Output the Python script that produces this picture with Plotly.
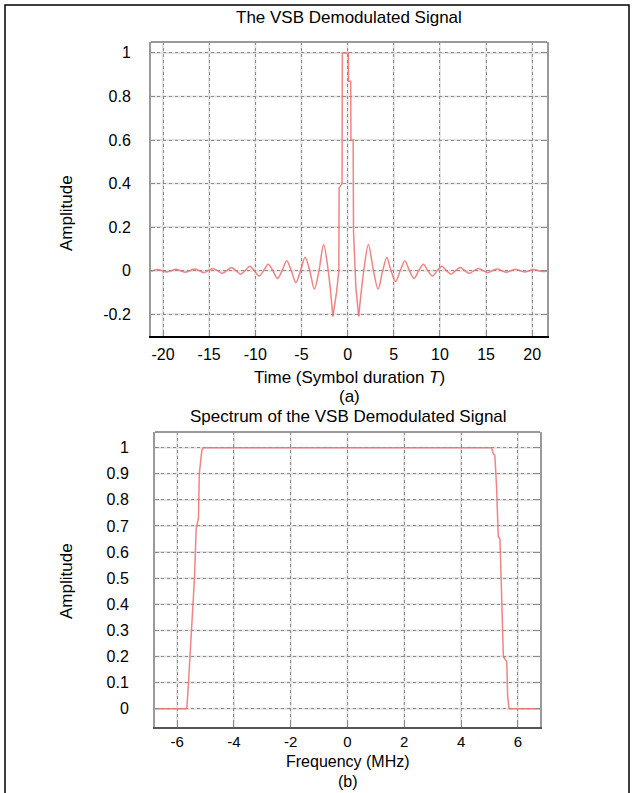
import plotly.graph_objects as go

# ---------------- data ----------------
# (a) time-domain demodulated VSB signal (time in symbol durations T)
# left oscillating tail
left_t = [-21.6, -21.1, -20.6, -20.1, -19.6, -19.1, -18.6, -18.1, -17.6, -17.1,
          -16.6, -16.1, -15.6, -15.1, -14.6, -14.1, -13.6, -13.1, -12.6, -12.1,
          -11.6, -11.1, -10.6, -10.1, -9.6, -9.1, -8.6, -8.1, -7.6, -7.1,
          -6.6, -6.1, -5.6, -5.1, -4.6, -4.1, -3.6, -3.1, -2.6, -2.1, -1.6]
left_amp = [-0.004, 0.0, 0.005, 0.0, -0.006, 0.0, 0.006, 0.0, -0.007, 0.0,
            0.008, 0.0, -0.009, 0.0, 0.010, 0.0, -0.012, 0.0, 0.014, 0.0,
            -0.016, 0.0, 0.020, 0.0, -0.024, 0.0, 0.030, 0.0, -0.036, 0.0,
            0.045, 0.0, -0.055, 0.0, 0.062, 0.0, -0.085, 0.0, 0.120, 0.0, -0.210]
# main lobe
main_t = [-1.6, -1.2, -0.95, -0.92, -0.6, -0.57, 0.08, 0.1, 0.33, 0.36,
          0.6, 0.64, 0.9, 1.2]
main_amp = [-0.210, -0.100, 0.0, 0.38, 0.40, 1.0, 1.0, 0.87, 0.87, 0.60,
            0.60, 0.18, -0.08, -0.210]
# right oscillating tail
right_t = [1.2, 1.75, 2.25, 2.8, 3.3, 3.8, 4.25, 4.7, 5.2, 5.7,
           6.2, 6.7, 7.2, 7.7, 8.2, 8.7, 9.2, 9.7, 10.2, 10.7,
           11.2, 11.7, 12.2, 12.7, 13.2, 13.7, 14.2, 14.7, 15.2, 15.7,
           16.2, 16.7, 17.2, 17.7, 18.2, 18.7, 19.2, 19.7, 20.2, 20.7,
           21.2, 21.7]
right_amp = [-0.210, 0.0, 0.120, 0.0, -0.085, 0.0, 0.060, 0.0, -0.050, 0.0,
             0.045, 0.0, -0.036, 0.0, 0.030, 0.0, -0.024, 0.0, 0.020, 0.0,
             -0.016, 0.0, 0.014, 0.0, -0.012, 0.0, 0.010, 0.0, -0.009, 0.0,
             0.008, 0.0, -0.007, 0.0, 0.006, 0.0, -0.006, 0.0, 0.005, 0.0,
             -0.004, 0.0]

# (b) spectrum (frequency in MHz)
freq_mhz = [-6.8, -5.66, -5.60, -5.55, -5.49, -5.43, -5.39, -5.33, -5.25, -5.22,
            -5.13, -5.08, 5.08, 5.12, 5.19, 5.25, 5.31, 5.37, 5.43, 5.49,
            5.61, 5.64, 5.69, 6.8]
spec_amp = [0.0, 0.0, 0.10, 0.20, 0.27, 0.41, 0.50, 0.69, 0.73, 0.90,
            0.99, 1.0, 1.0, 0.98, 0.97, 0.85, 0.66, 0.65, 0.42, 0.20,
            0.18, 0.05, 0.0, 0.0]

time_xticks = [-20, -15, -10, -5, 0, 5, 10, 15, 20]
time_yticks = [-0.2, 0, 0.2, 0.4, 0.6, 0.8, 1]
time_ylabels = ["-0.2", "0", "0.2", "0.4", "0.6", "0.8", "1"]
freq_xticks = [-6, -4, -2, 0, 2, 4, 6]
freq_yticks = [0, 0.1, 0.2, 0.3, 0.4, 0.5, 0.6, 0.7, 0.8, 0.9, 1]
freq_ylabels = ["0", "0.1", "0.2", "0.3", "0.4", "0.5", "0.6", "0.7", "0.8", "0.9", "1"]

# ---------------- figure ----------------
W, H = 634, 793
FONT = "Liberation Sans, Arial, sans-serif"
FS = 17
TFS = 16
LINE = "rgba(238,110,110,0.85)"

def px_x(p):
    return p / W

def px_y(p):
    return 1 - p / H

fig = go.Figure()
for tx, ty, shape in [(left_t, left_amp, "spline"), (main_t, main_amp, "linear"),
                      (right_t, right_amp, "spline")]:
    fig.add_trace(go.Scatter(x=tx, y=ty, mode="lines",
                             line=dict(color=LINE, width=1.5, shape=shape, smoothing=0.9),
                             xaxis="x", yaxis="y", showlegend=False, hoverinfo="skip"))
fig.add_trace(go.Scatter(x=freq_mhz, y=spec_amp, mode="lines",
                         line=dict(color=LINE, width=1.5), xaxis="x2", yaxis="y2",
                         showlegend=False, hoverinfo="skip"))

grid_common = dict(showgrid=True, gridcolor="#8c8c8c", griddash="dot", gridwidth=1,
                   zeroline=False, ticks="inside", ticklen=4, tickcolor="#8c8c8c",
                   automargin=False)

def tf(size):
    return dict(family=FONT, size=size, color="black")

fig.update_layout(
    width=W, height=H,
    margin=dict(l=0, r=0, t=0, b=0),
    paper_bgcolor="white", plot_bgcolor="white",
    font=dict(family=FONT, size=FS, color="black"),
    xaxis=dict(domain=[px_x(151), px_x(547)], range=[-21.3, 21.6], anchor="y",
               tickvals=time_xticks, ticktext=[str(v) for v in time_xticks],
               ticklabelstandoff=3, tickfont=tf(TFS),
               showline=True, linecolor="black", linewidth=2, **grid_common),
    yaxis=dict(domain=[px_y(336), px_y(42)], range=[-0.3, 1.05], anchor="x",
               tickvals=time_yticks, ticktext=time_ylabels, ticklabelstandoff=15,
               tickfont=tf(TFS),
               showline=True, linecolor="#9a9a9a", linewidth=2, mirror="ticks",
               **grid_common),
    xaxis2=dict(domain=[px_x(155), px_x(540)], range=[-6.78, 6.78], anchor="y2",
                tickvals=freq_xticks, ticktext=[str(v) for v in freq_xticks],
                ticklabelstandoff=0, tickfont=tf(15),
                showline=True, linecolor="#555555", linewidth=2, **grid_common),
    yaxis2=dict(domain=[px_y(727), px_y(432)], range=[-0.07, 1.06], anchor="x2",
                tickvals=freq_yticks, ticktext=freq_ylabels, ticklabelstandoff=21,
                tickfont=tf(TFS),
                showline=True, linecolor="#9a9a9a", linewidth=2, mirror="ticks",
                **grid_common),
)

shapes = []
# faint solid grid lines behind the dotted ones
for xr, yr, xt, yt in [("x", "y", time_xticks, time_yticks),
                       ("x2", "y2", freq_xticks, freq_yticks)]:
    for v in xt:
        shapes.append(dict(type="line", xref=xr, yref=yr + " domain", x0=v, x1=v,
                           y0=0, y1=1, layer="below",
                           line=dict(color="#e3e3e3", width=2)))
    for v in yt:
        shapes.append(dict(type="line", xref=xr + " domain", yref=yr, x0=0, x1=1,
                           y0=v, y1=v, layer="below",
                           line=dict(color="#e3e3e3", width=2)))
    # frame (top edge)
    shapes.append(dict(type="line", xref=xr + " domain", yref=yr + " domain",
                       x0=0, x1=1, y0=1, y1=1, layer="above",
                       line=dict(color="#9a9a9a", width=2)))
# outer black border
shapes.append(dict(type="rect", xref="paper", yref="paper",
                   x0=px_x(5), x1=px_x(629), y0=-0.02, y1=px_y(5),
                   line=dict(color="black", width=1.5), fillcolor="rgba(0,0,0,0)"))
fig.update_layout(shapes=shapes)

ann = []
def text(x, y, s, angle=0, size=FS):
    ann.append(dict(xref="paper", yref="paper", x=px_x(x), y=px_y(y), text=s,
                    showarrow=False, xanchor="center", yanchor="middle",
                    textangle=angle, font=tf(size)))

text(349, 18, "The VSB Demodulated Signal")
text(66, 213, "Amplitude", -90)
text(349, 377, "Time (Symbol duration <i>T</i>)")
text(349, 396, "(a)")
text(348, 416, "Spectrum of the VSB Demodulated Signal")
text(66, 581, "Amplitude", -90)
text(348, 761, "Frequency (MHz)", size=16)
text(348, 781, "(b)", size=16)
fig.update_layout(annotations=ann)

fig.write_html("out.html")
